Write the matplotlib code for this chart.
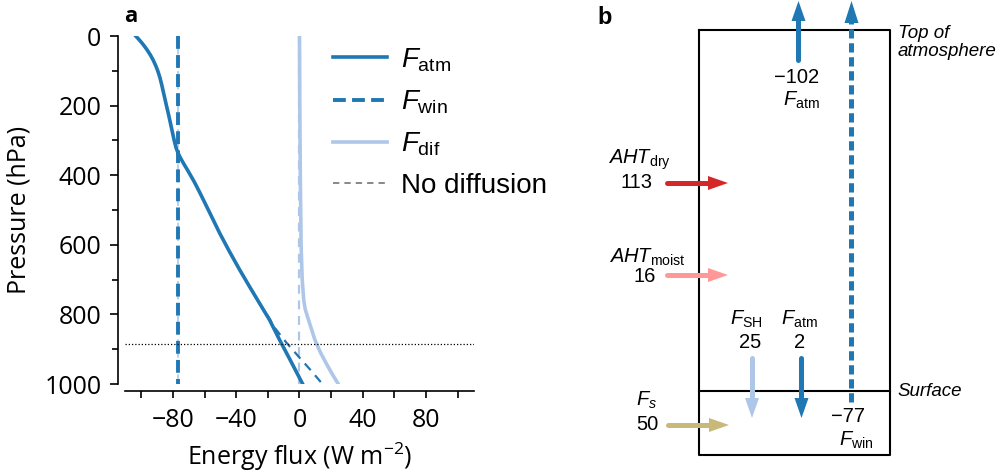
import matplotlib
matplotlib.use('Agg')
import matplotlib.pyplot as plt
import numpy as np
from matplotlib.patches import Polygon
from matplotlib.lines import Line2D

plt.rcParams['font.family'] = ['Open Sans', 'DejaVu Sans']
plt.rcParams['mathtext.fontset'] = 'custom'
plt.rcParams['mathtext.rm'] = 'Liberation Sans'
plt.rcParams['mathtext.it'] = 'Liberation Sans:italic'
plt.rcParams['mathtext.bf'] = 'Liberation Sans:bold'
plt.rcParams['axes.unicode_minus'] = True

# ---------------- data: panel a ----------------
p_atm = [0, 10, 20, 30, 40, 55, 70, 85, 100, 120, 140, 160, 180, 200, 225, 250, 275,
         300, 320, 335, 350, 370, 385, 420, 452, 500, 567, 620, 672, 720, 770, 816,
         874, 930, 1000]
f_atm = [-103.5, -101.5, -99.6, -97.9, -96.3, -94.2, -92.4, -90.9, -89.6, -88.2, -87.1,
         -86.1, -85.1, -84.1, -82.8, -81.6, -80.4, -79.2, -78.1, -76.9, -75.3, -72.8,
         -70.8, -66.4, -62.8, -57.6, -50.4, -44.2, -37.8, -31.6, -25.0, -18.9, -12.5,
         -6.0, 2.0]
p_win = [0, 1000]
f_win = [-77, -77]
p_dif = [0, 200, 400, 600, 700, 760, 785, 810, 840, 874, 910, 940, 970, 1000]
f_dif = [0, 0.2, 0.5, 1.0, 1.7, 2.7, 3.6, 5.3, 7.4, 9.8, 13.3, 16.8, 20.5, 24.5]
# no-diffusion profiles
p_atm_nd = [800, 840, 880, 920, 960, 1000]
f_atm_nd = [-20.6, -15.4, -8.5, -0.8, 7.0, 14.5]
p_dif_nd = [0, 1000]
f_dif_nd = [0, 0]
p_win_nd = [0, 1000]
f_win_nd = [-77, -77]
p_level = 886  # dotted reference level

xticks_major = [-80, -40, 0, 40, 80]
xtick_labels = ['\u221280', '\u221240', '0', '40', '80']
xticks_minor = [-100, -60, -20, 20, 60, 100]
yticks_major = [0, 200, 400, 600, 800, 1000]
yticks_minor = [100, 300, 500, 700, 900]

legend_labels = [r'$F_{\mathrm{atm}}$', r'$F_{\mathrm{win}}$', r'$F_{\mathrm{dif}}$', 'No diffusion']

# ---------------- data: panel b ----------------
toa_atm = -102
sfc_win = -77
aht_dry = 113
aht_moist = 16
f_sh = 25
f_atm_sfc = 2
f_s = 50

DARK = '#1f77b4'
LIGHT = '#aec7e8'
RED = '#d62728'
PINK = '#ff9896'
TAN = '#c8b87a'

W, H = 1004, 474
fig = plt.figure(figsize=(W / 100, H / 100), dpi=100)

# ---------------- panel b (pixel coordinates) ----------------
axb = fig.add_axes([0, 0, 1, 1])
axb.set_xlim(0, W)
axb.set_ylim(H, 0)
axb.axis('off')
axb.patch.set_visible(False)

PX = 0.72  # points per pixel


def fmt(v):
    return ('\u2212%d' % -v) if v < 0 else '%d' % v


def arrow(x0, y0, x1, y1, color, dashed=False, hl=20, hw=14, wpx=5):
    d = np.array([x1 - x0, y1 - y0], float)
    L = np.hypot(*d)
    u = d / L
    n = np.array([-u[1], u[0]])
    tip = np.array([x1, y1], float)
    base = tip - u * hl
    sb = base + u * 1.0
    if dashed:
        axb.plot([x0, sb[0]], [y0, sb[1]], color=color, lw=wpx * PX,
                 solid_capstyle='butt', dash_capstyle='butt',
                 dashes=(1.85, 0.95))
    else:
        axb.plot([x0, sb[0]], [y0, sb[1]], color=color, lw=wpx * PX,
                 solid_capstyle='round')
    poly = Polygon([tip, base + n * hw / 2, base - n * hw / 2], closed=True,
                   facecolor=color, edgecolor='none')
    axb.add_patch(poly)


# box
axb.plot([699.5, 890, 890, 699.5, 699.5], [30, 30, 455, 455, 30], color='k', lw=1.5)
axb.plot([699.5, 890], [391, 391], color='k', lw=1.5)

BF = dict(family='Liberation Sans', fontsize=14.5, ha='center', va='center')

# TOA F_atm
arrow(798.5, 60, 798.5, 1, DARK)
axb.text(797, 77, fmt(toa_atm), **BF)
axb.text(801, 100, r'$F_{\mathrm{atm}}$', **BF)
# F_win dashed
arrow(851.5, 402, 851.5, 1, DARK, dashed=True, hl=22)
axb.text(848, 416, fmt(sfc_win), **BF)
axb.text(856, 440, r'$F_{\mathrm{win}}$', **BF)
# AHT dry
arrow(667, 183, 728, 183, RED)
axb.text(639, 160, r'$AHT_{\mathrm{dry}}$', **BF)
axb.text(637, 183, fmt(aht_dry), **BF)
# AHT moist
arrow(667, 275, 728, 275, PINK)
axb.text(647, 257, r'$AHT_{\mathrm{moist}}$', **BF)
axb.text(645, 277, fmt(aht_moist), **BF)
# F_SH
arrow(752, 358, 752, 418, LIGHT)
axb.text(746, 319, r'$F_{\mathrm{SH}}$', **BF)
axb.text(750, 343, fmt(f_sh), **BF)
# F_atm surface
arrow(801.5, 358, 801.5, 418, DARK)
axb.text(799, 319, r'$F_{\mathrm{atm}}$', **BF)
axb.text(800, 343, fmt(f_atm_sfc), **BF)
# F_s
arrow(668, 425, 729, 425, TAN)
axb.text(647, 400, r'$F_s$', **BF)
axb.text(647, 425, fmt(f_s), **BF)

IT = dict(family='Liberation Sans', style='italic', fontsize=13.5, ha='left', va='center')
axb.text(898, 33, 'Top of', **IT)
axb.text(898, 51, 'atmosphere', **IT)
axb.text(897, 392, 'Surface', **IT)

fig.text(597 / W, 1 - 17 / H, 'b', family='Liberation Sans', weight='bold',
         fontsize=17, ha='left', va='center')

# ---------------- panel a ----------------
ax = fig.add_axes([125 / W, 1 - 384 / H, 349 / W, 348 / H])
ax.patch.set_visible(False)

ax.plot(f_win_nd, p_win_nd, color=LIGHT, lw=1.2, dashes=(4, 3))
ax.plot(f_dif_nd, p_dif_nd, color=LIGHT, lw=1.6, dashes=(4, 3))
ax.plot(f_atm_nd, p_atm_nd, color=DARK, lw=1.6, dashes=(4, 3))
ax.plot(f_win, p_win, color=DARK, lw=2.8, dashes=(3.3, 1.6))
ax.plot(f_dif, p_dif, color=LIGHT, lw=2.6)
ax.plot(f_atm, p_atm, color=DARK, lw=2.6, solid_joinstyle='round')
ax.axhline(p_level, color='k', lw=0.9, ls=(0, (1, 1.6)))

ax.set_xlim(-110.3, 110.3)
ax.set_ylim(1000, 0)
for s in ['top', 'right']:
    ax.spines[s].set_visible(False)
for s in ['left', 'bottom']:
    ax.spines[s].set_position(('outward', 5))
    ax.spines[s].set_linewidth(1.2)

ax.set_xticks(xticks_major)
ax.set_xticklabels(xtick_labels)
ax.set_xticks(xticks_minor, minor=True)
ax.set_yticks(yticks_major)
ax.set_yticks(yticks_minor, minor=True)
ax.tick_params(axis='x', which='both', length=5, width=1.2, labelsize=18, pad=7)
ax.tick_params(axis='y', which='major', length=6, width=1.2, labelsize=18, pad=6)
ax.tick_params(axis='y', which='minor', length=4, width=1.2)
ax.set_xlabel('Energy flux (W m$^{\\mathregular{-2}}$)', fontsize=18, labelpad=6)
ax.set_ylabel('Pressure (hPa)', fontsize=18, labelpad=9)

handles = [Line2D([], [], color=DARK, lw=2.6),
           Line2D([], [], color=DARK, lw=2.8, dashes=(3.3, 1.6)),
           Line2D([], [], color=LIGHT, lw=2.6),
           Line2D([], [], color='#7f7f7f', lw=1.3, dashes=(3.5, 2.8))]
leg = fig.legend(handles, legend_labels, loc='upper left',
                 bbox_to_anchor=(333 / W, 1 - 46 / H), frameon=False,
                 prop={'family': 'Liberation Sans', 'size': 20},
                 handlelength=1.94, handletextpad=0.5, labelspacing=0.53,
                 borderpad=0, borderaxespad=0)

fig.text(131 / W, 1 - 17 / H, 'a', weight='bold', fontsize=16, ha='center', va='center')

fig.savefig('out.png', dpi=100)
